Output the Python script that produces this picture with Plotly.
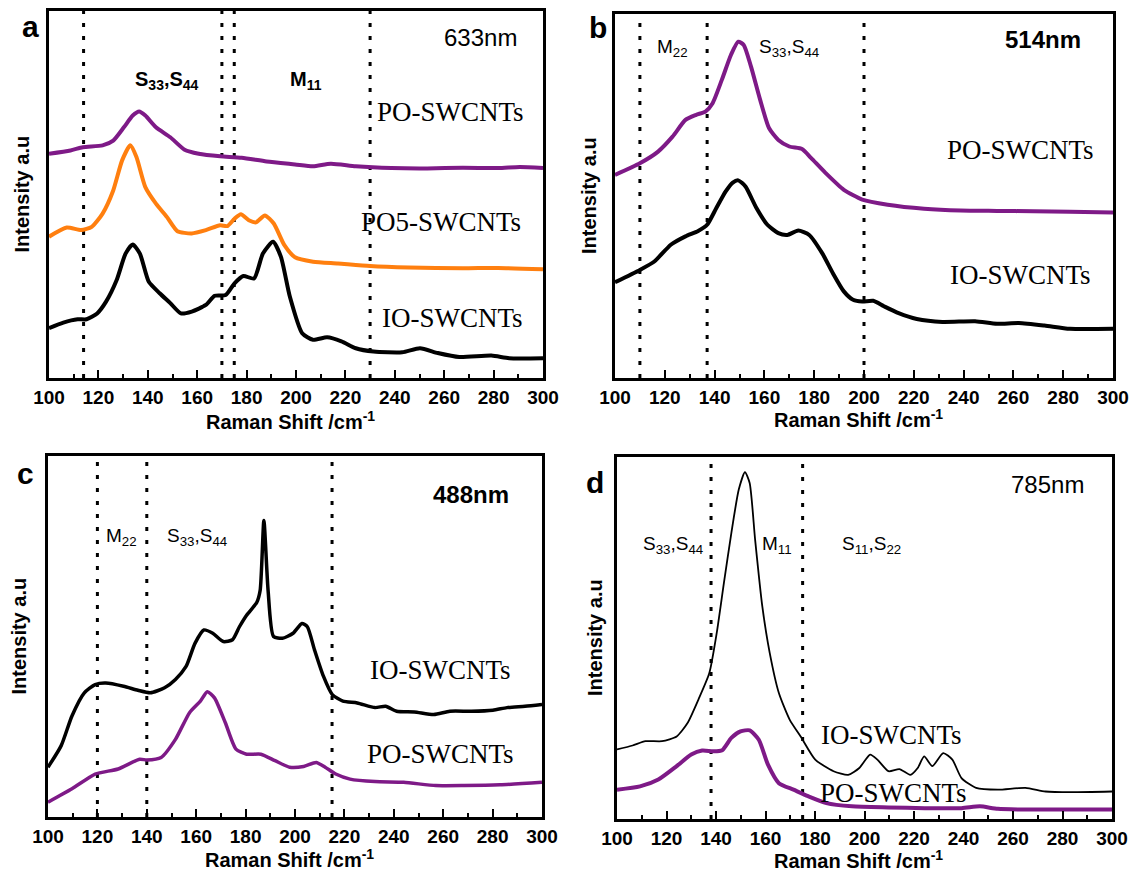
import plotly.graph_objects as go

# ---------------- data (Raman shift /cm^-1, intensity a.u. on a 0-100 scale) ----------------
a_po_x = [100, 108.7, 113.7, 121.7, 126, 130.3, 133.9, 136.5, 139, 143.3, 149.1, 154.9, 160.6, 169.3, 178, 188.1, 199.6, 206.9, 214.1, 224.2, 238.6, 253.1, 267.5, 281.9, 290.6, 300]
a_po_y = [61.1, 62.0, 62.9, 63.4, 64.7, 68.3, 71.5, 72.6, 71.5, 68.3, 65.6, 62.2, 61.1, 60.4, 60.0, 59.0, 58.2, 57.7, 58.4, 57.7, 57.2, 57.1, 57.3, 57.2, 57.5, 57.2]
a_po5_x = [100, 107.2, 113, 117.3, 121.7, 126, 129.6, 132.9, 135.4, 139, 143.3, 147.7, 152, 157.8, 163.5, 169.3, 172.2, 175.1, 177.7, 180.9, 183.8, 187.4, 191, 195.3, 199.6, 206.9, 217, 230, 245.8, 267.5, 281.9, 300]
a_po5_y = [38.5, 41.0, 40.3, 41.2, 44.8, 51.1, 59.3, 63.4, 60.2, 52.0, 47.5, 43.9, 40.0, 39.4, 40.3, 41.6, 41.4, 43.4, 44.6, 43.0, 42.4, 44.3, 42.1, 36.2, 32.9, 31.7, 31.2, 30.5, 30.1, 29.9, 30.0, 29.6]
a_io_x = [100, 105.8, 111.6, 115.2, 119.5, 123.1, 127.4, 131.0, 133.9, 136.8, 140.4, 144.8, 149.1, 153.4, 157.8, 163.5, 167.1, 171.5, 175.1, 178.7, 183.0, 186.6, 190.7, 193.9, 197.5, 202.5, 206.9, 212.6, 218.4, 224.2, 231.4, 243, 250.2, 257.4, 266.1, 279.1, 286.3, 300]
a_io_y = [13.6, 15.1, 16.0, 16.0, 17.6, 20.8, 26.7, 33.9, 36.4, 33.9, 26.2, 23.1, 20.4, 17.6, 18.1, 19.9, 22.4, 22.6, 25.8, 27.8, 27.1, 33.9, 37.1, 33.0, 22.2, 12.2, 10.4, 11.1, 10.0, 8.1, 7.2, 7.0, 8.1, 6.8, 5.7, 6.1, 5.4, 5.4]

b_po_x = [100, 110, 117.3, 123.1, 128.3, 132.6, 136.3, 139.2, 142.9, 146.6, 149.5, 151.7, 154.6, 158.3, 161.9, 165.6, 170.0, 175.1, 178.8, 184.6, 191.9, 199.3, 209.5, 224.1, 238.8, 253.4, 268.1, 282.7, 300]
b_po_y = [55.8, 59.0, 62.2, 66.3, 70.9, 72.3, 73.2, 75.5, 81.9, 88.8, 92.4, 91.5, 85.6, 76.4, 68.6, 65.4, 63.6, 62.9, 60.4, 56.3, 51.7, 49.0, 47.6, 46.5, 46.0, 45.9, 45.8, 45.7, 45.5]
b_io_x = [100, 110, 115.8, 122.4, 128.3, 133.4, 137.0, 140.7, 144.4, 147.3, 149.5, 152.4, 156.8, 161.2, 165.6, 169.2, 173.6, 178.0, 183.2, 187.5, 191.9, 195.6, 199.3, 203.7, 208.0, 213.9, 221.2, 231.5, 244.6, 253.4, 262.2, 272.5, 282.7, 300]
b_io_y = [26.3, 29.7, 32.0, 36.6, 38.9, 40.4, 42.1, 46.7, 51.2, 53.7, 54.3, 52.6, 46.7, 42.1, 39.8, 39.3, 40.5, 39.3, 34.3, 28.8, 23.8, 21.5, 21.0, 21.2, 19.7, 17.8, 16.2, 15.4, 15.6, 14.9, 15.1, 14.4, 13.5, 13.5]

c_io_x = [100, 105.3, 109.7, 114.7, 119.1, 123.4, 130.6, 136.4, 141.4, 147.2, 151.6, 155.9, 159.5, 163.1, 166.7, 171.0, 174.7, 177.5, 180.4, 184.5, 185.9, 187.4, 189.1, 191.3, 194.9, 199.2, 202.8, 205.0, 207.9, 211.5, 215.1, 219.4, 225.2, 232.4, 236.7, 241.1, 248.3, 256.2, 262.7, 271.4, 280.1, 285.8, 293.1, 300]
c_io_y = [13.8, 19.7, 28.0, 34.4, 36.7, 37.1, 36.2, 35.1, 34.4, 35.8, 38.1, 41.7, 48.1, 51.8, 50.9, 48.6, 49.1, 52.7, 55.9, 59.4, 62.8, 82.1, 62.8, 50.0, 49.5, 50.9, 53.6, 52.7, 46.3, 39.0, 33.9, 32.1, 31.6, 30.3, 30.7, 29.3, 29.1, 28.4, 29.3, 29.3, 29.6, 30.3, 30.7, 31.2]
c_po_x = [100, 109.7, 119.1, 128.4, 137.1, 140.0, 145.8, 151.6, 157.3, 161.7, 164.5, 167.4, 171.8, 176.1, 180.4, 186.2, 191.9, 197.8, 203.5, 208.6, 212.2, 216.5, 222.3, 232.4, 244.0, 257.0, 268.5, 283.0, 300]
c_po_y = [4.1, 7.8, 11.9, 13.3, 16.0, 15.8, 16.5, 21.5, 28.9, 32.1, 34.7, 33.0, 26.1, 18.8, 17.4, 17.4, 15.6, 13.8, 14.0, 15.1, 13.8, 11.9, 10.5, 9.8, 9.6, 8.7, 8.7, 8.9, 9.6]

d_io_x = [100, 106.3, 111.5, 118.2, 124.1, 128.5, 132.9, 137.3, 140.3, 143.2, 146.2, 149.2, 151.7, 153.6, 155.8, 158.7, 161.7, 165.4, 169.8, 174.2, 180.1, 187.5, 193.4, 197.9, 202.3, 205.2, 209.7, 214.1, 218.5, 221.5, 224.1, 227.4, 231.8, 235.5, 239.2, 245.1, 253.9, 265.0, 273.1, 283.5, 300]
d_io_y = [19.2, 20.3, 21.5, 21.5, 22.8, 26.5, 33.0, 40.3, 51.4, 65.2, 79.0, 91.0, 95.8, 92.8, 77.2, 58.8, 45.9, 34.8, 27.4, 22.8, 16.4, 13.2, 12.2, 14.1, 17.8, 16.4, 13.2, 13.8, 12.2, 14.1, 17.3, 14.6, 18.2, 16.4, 11.3, 8.6, 8.1, 8.6, 7.6, 7.4, 7.6]
d_po_x = [100, 109.3, 116.7, 124.1, 130.0, 134.4, 138.8, 142.5, 146.2, 149.9, 153.6, 157.3, 161.0, 165.4, 171.3, 177.2, 184.6, 194.9, 209.7, 224.4, 239.2, 246.6, 253.9, 268.7, 283.5, 300]
d_po_y = [8.1, 9.0, 10.9, 14.6, 17.8, 18.9, 18.7, 19.0, 22.4, 24.2, 24.5, 21.9, 15.0, 9.9, 8.1, 6.3, 4.4, 3.5, 3.2, 3.0, 3.0, 3.5, 2.8, 2.6, 2.6, 2.6]

vlines_a = [114, 170, 175, 230]
vlines_b = [110, 137, 200]
vlines_c = [120, 140, 215]
vlines_d = [138, 175]

wavelengths = ["633nm", "514nm", "488nm", "785nm"]
panel_letters = ["a", "b", "c", "d"]
x_ticks = [100, 120, 140, 160, 180, 200, 220, 240, 260, 280, 300]

# ---------------- styling ----------------
PURPLE = "#7E1A87"
ORANGE = "#FF7F0F"
BLACK = "#000000"
SANS = "Arial, Liberation Sans, sans-serif"
SERIF = "Times New Roman, Liberation Serif, serif"

W, H = 1132, 875
# panel boxes in pixels (left, top, right, bottom)
boxes = [(49, 11, 543, 378), (615, 14, 1113, 378), (48, 456, 542, 817), (617, 457, 1112, 819)]

fig = go.Figure()

def ax_names(i):
    s = "" if i == 0 else str(i + 1)
    return "x" + s, "y" + s, "xaxis" + s, "yaxis" + s

series = [
    [(a_po_x, a_po_y, PURPLE, 4), (a_po5_x, a_po5_y, ORANGE, 4), (a_io_x, a_io_y, BLACK, 4)],
    [(b_po_x, b_po_y, PURPLE, 4), (b_io_x, b_io_y, BLACK, 4)],
    [(c_io_x, c_io_y, BLACK, 3.5), (c_po_x, c_po_y, PURPLE, 3.5)],
    [(d_io_x, d_io_y, BLACK, 1.8), (d_po_x, d_po_y, PURPLE, 4)],
]
vlines = [vlines_a, vlines_b, vlines_c, vlines_d]

layout = dict(
    template="none",
    width=W, height=H, margin=dict(l=0, r=0, t=0, b=0, autoexpand=False),
    paper_bgcolor="white", plot_bgcolor="white", showlegend=False,
)

for i, (l, t, r, b) in enumerate(boxes):
    xn, yn, xk, yk = ax_names(i)
    for vx in vlines[i]:
        fig.add_trace(go.Scatter(x=[vx, vx], y=[0, 100], mode="lines", xaxis=xn, yaxis=yn,
                                 line=dict(color=BLACK, width=3, dash="4px,9px"), hoverinfo="skip"))
    for (sx, sy, col, lw) in series[i]:
        fig.add_trace(go.Scatter(x=sx, y=sy, mode="lines", xaxis=xn, yaxis=yn,
                                 line=dict(color=col, width=lw, shape="spline", smoothing=0.6)))
    layout[xk] = dict(
        domain=[l / W, r / W], anchor=yn, range=[100, 300], automargin=False,
        tickvals=x_ticks, ticks="inside", ticklen=8, tickwidth=2, tickcolor=BLACK,
        minor=dict(dtick=10, tick0=100, ticks="inside", ticklen=4, tickwidth=2, tickcolor=BLACK),
        showline=True, linewidth=3, linecolor=BLACK, mirror=True, showgrid=False, zeroline=False,
        tickfont=dict(family=SANS, size=19, color=BLACK, weight="bold"),
    )
    layout[yk] = dict(
        domain=[1 - b / H, 1 - t / H], anchor=xn, range=[0, 100], automargin=False,
        showticklabels=False, ticks="", showline=True, linewidth=3, linecolor=BLACK,
        mirror=True, showgrid=False, zeroline=False,
    )

fig.update_layout(**layout)

anns = []

def add(text, x, y, xref, yref, size, family=SANS, bold=False, **kw):
    d = dict(text=text, x=x, y=y, xref=xref, yref=yref, showarrow=False,
             font=dict(family=family, size=size, color=BLACK, weight="bold" if bold else "normal"))
    d.update(kw)
    anns.append(d)

# axis titles, panel letters
letter_shift = [(-19, -16), (-17, -13), (-23, -17), (-22, -26)]
ytitle_x = [22, 589, 18, 595]
xtitle_y = [421, 419, 858, 859]
for i, (l, t, r, b) in enumerate(boxes):
    xn, yn, xk, yk = ax_names(i)
    add("Raman Shift /cm<sup>-1</sup>", 0.5, 0, xn + " domain", yn + " domain", 20, bold=True,
        yanchor="middle", yshift=-(xtitle_y[i] - b), xshift=-6)
    add("Intensity a.u", 0, 0.5, xn + " domain", yn + " domain", 20, bold=True,
        textangle=-90, xanchor="center", xshift=-(l - ytitle_x[i]))
    dx, dy = letter_shift[i]
    add(panel_letters[i], 0, 1, xn + " domain", yn + " domain", 30, bold=True,
        xanchor="center", yanchor="middle", xshift=dx, yshift=dy)

# wavelength labels
add(wavelengths[0], 274.7, 92.8, "x", "y", 24)
add(wavelengths[1], 271.7, 92.9, "x2", "y2", 24, bold=True)
add(wavelengths[2], 271.4, 89.4, "x3", "y3", 24, bold=True)
add(wavelengths[3], 273.9, 92.4, "x4", "y4", 24)

# band labels
add("S<sub>33</sub>,S<sub>44</sub>", 147.7, 81, "x", "y", 20, bold=True)
add("M<sub>11</sub>", 204, 81, "x", "y", 20, bold=True)
add("M<sub>22</sub>", 123, 90.6, "x2", "y2", 19)
add("S<sub>33</sub>,S<sub>44</sub>", 170, 90.6, "x2", "y2", 19)
add("M<sub>22</sub>", 129.9, 77.5, "x3", "y3", 19)
add("S<sub>33</sub>,S<sub>44</sub>", 160.2, 77.5, "x3", "y3", 19)
add("S<sub>33</sub>,S<sub>44</sub>", 122.6, 75.8, "x4", "y4", 19)
add("M<sub>11</sub>", 164.6, 75.8, "x4", "y4", 19)
add("S<sub>11</sub>,S<sub>22</sub>", 203, 75.8, "x4", "y4", 19)

# sample labels
add("PO-SWCNTs", 262.5, 72.4, "x", "y", 27, family=SERIF)
add("PO5-SWCNTs", 258.8, 42.5, "x", "y", 27, family=SERIF)
add("IO-SWCNTs", 263.2, 16.3, "x", "y", 27, family=SERIF)
add("PO-SWCNTs", 263, 62.7, "x2", "y2", 27, family=SERIF)
add("IO-SWCNTs", 263, 28.4, "x2", "y2", 27, family=SERIF)
add("IO-SWCNTs", 259.1, 40.8, "x3", "y3", 27, family=SERIF)
add("PO-SWCNTs", 259.1, 17.4, "x3", "y3", 27, family=SERIF)
add("IO-SWCNTs", 211, 23.3, "x4", "y4", 27, family=SERIF)
add("PO-SWCNTs", 211.9, 7.2, "x4", "y4", 27, family=SERIF)

fig.update_layout(annotations=anns)
fig.write_html("out.html")
